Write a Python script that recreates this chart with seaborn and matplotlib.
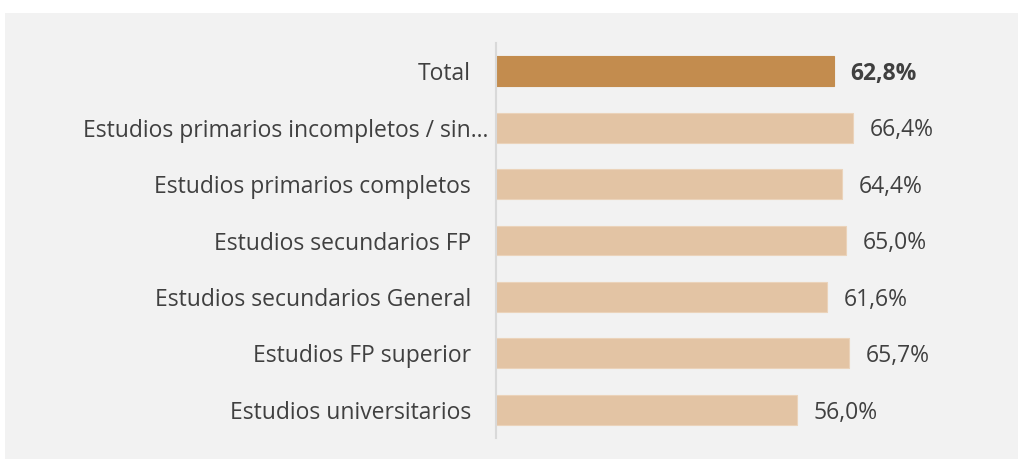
import matplotlib
matplotlib.use("Agg")
import matplotlib.pyplot as plt
import matplotlib.transforms as mtransforms
import seaborn as sns
import pandas as pd
from matplotlib.patches import Rectangle

# datos
categorias = [
    "Total",
    "Estudios primarios incompletos / sin…",
    "Estudios primarios completos",
    "Estudios secundarios FP",
    "Estudios secundarios General",
    "Estudios FP superior",
    "Estudios universitarios",
]
valores = [62.8, 66.4, 64.4, 65.0, 61.6, 65.7, 56.0]
grupo = ["total", "nivel", "nivel", "nivel", "nivel", "nivel", "nivel"]

df = pd.DataFrame({"categoria": categorias, "valor": valores, "grupo": grupo})

sns.set_theme(style="white")
plt.rcParams["font.family"] = ["Open Sans", "DejaVu Sans"]

fig = plt.figure(figsize=(10.18, 4.59), dpi=100)
fig.patch.set_facecolor("white")
# panel gris de fondo
fig.patches.append(Rectangle((5 / 1018, 0), 1, 1 - 13 / 459, transform=fig.transFigure,
                             facecolor="#F2F2F2", edgecolor="none", zorder=-10))

ax = fig.add_axes([496 / 1018, 1 - 438 / 459, 1 - 496 / 1018, (438 - 43) / 459])
ax.set_facecolor("none")

paleta = {"total": "#C38C4E", "nivel": "#E3C4A4"}
sns.barplot(data=df, x="valor", y="categoria", hue="grupo", palette=paleta,
            dodge=False, legend=False, width=0.53, saturation=1, ax=ax,
            edgecolor="#EBD3BA", linewidth=0.8)
ax.patches[0].set_edgecolor("#C38C4E")

ax.set_xlim(0, 522 / 5.38)
ax.set_ylim(6.5, -0.5)
ax.set_xlabel("")
ax.set_ylabel("")
ax.set_xticks([])
for s in ["top", "right", "bottom"]:
    ax.spines[s].set_visible(False)
ax.spines["left"].set_color("#D9D9D9")
ax.spines["left"].set_linewidth(1.5)

ax.tick_params(axis="y", length=0, pad=18, labelsize=16.5, labelcolor="#404040")

# la etiqueta recortada queda más cerca del eje, como en el original
lbl = ax.get_yticklabels()[1]
lbl.set_transform(lbl.get_transform() + mtransforms.ScaledTranslation(17 / 100, 0, fig.dpi_scale_trans))

# etiquetas de valor
for i, cont in enumerate(ax.containers):
    for bar in cont:
        v = bar.get_width()
        y = bar.get_y() + bar.get_height() / 2
        if pd.isna(v) or v == 0:
            continue
        es_total = abs(y) < 0.01
        ax.annotate(f"{v:.1f}%".replace(".", ","), (v, y), xytext=(12, -2),
                    textcoords="offset points", va="center", ha="left",
                    fontsize=16.5, color="#404040",
                    fontweight="bold" if es_total else "normal")

fig.savefig("out.png", dpi=100, facecolor=fig.get_facecolor())
